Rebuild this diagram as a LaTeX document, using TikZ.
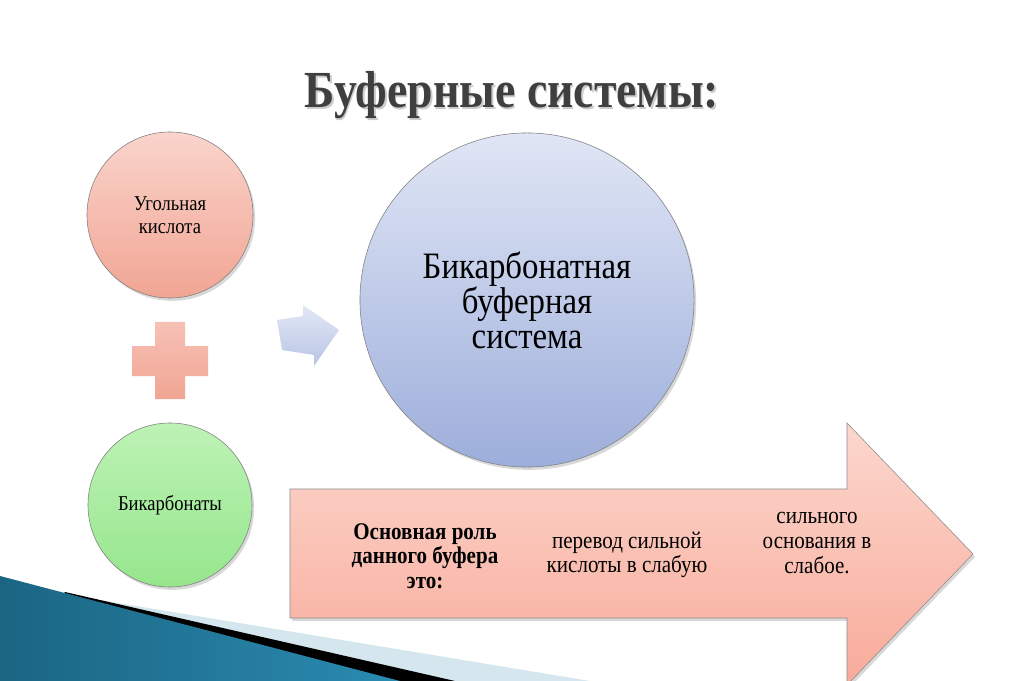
\documentclass[tikz,border=0pt]{standalone}
\usepackage{fontspec}
\setmainfont{Liberation Serif}[FakeStretch=0.88]
\usetikzlibrary{shadows}

\definecolor{titlegray}{HTML}{3F3F3F}
\definecolor{pinktop}{HTML}{FAD4CC}
\definecolor{pinkbot}{HTML}{F1A593}
\definecolor{greentop}{HTML}{BDF3B5}
\definecolor{greenbot}{HTML}{96E68D}
\definecolor{bluetop}{HTML}{E0E6F5}
\definecolor{bluebot}{HTML}{9DAEDB}
\definecolor{arrtop}{HTML}{FCD7CE}
\definecolor{arrbot}{HTML}{F8AB9A}
\definecolor{tealdark}{HTML}{1B6583}
\definecolor{teallight}{HTML}{3FA4CA}
\definecolor{tealmid}{HTML}{2A8BB1}
\definecolor{paleband}{HTML}{D6E6EE}

\begin{document}
\begin{tikzpicture}[x=0.025cm, y=-0.025cm,
    bubble/.style={circle, draw=black!50, line width=0.4pt, inner sep=0pt, align=center,
        drop shadow={shadow xshift=1.5pt, shadow yshift=-2pt, opacity=0.3}},
    smalltext/.style={font=\fontsize{15}{16.5}\selectfont},
    arrowtext/.style={align=center, font=\fontsize{17}{17.5}\selectfont}]
    \useasboundingbox (0,0) rectangle (1024,681);
    \fill[white] (0,0) rectangle (1024,681);
    \clip (0,0) rectangle (1024,681);

    % Corner decoration
    \fill[paleband] (100,600) -- (590,681) -- (0,681) -- cycle;
    \fill[black] (65,592) -- (455,681) -- (0,681) -- cycle;
    \shade[left color=tealdark, middle color=teallight, right color=tealmid]
        (0,576) -- (400,681) -- (0,681) -- cycle;

    % Title
    \node[anchor=base, text=black!20, font=\fontsize{37}{40}\selectfont\bfseries]
        at (513.5,110) {Буферные системы:};
    \node[anchor=base, text=titlegray, font=\fontsize{37}{40}\selectfont\bfseries]
        (title) at (512,108) {Буферные системы:};

    % Circles
    \node[bubble, smalltext, minimum size=4.15cm, top color=pinktop, bottom color=pinkbot]
        (acid) at (170,215) {Угольная\\кислота};
    \node[bubble, smalltext, minimum size=4.1cm, top color=greentop, bottom color=greenbot]
        (bicarb) at (170,505) {Бикарбонаты};
    \node[bubble, minimum size=8.35cm, top color=bluetop, bottom color=bluebot,
        font=\fontsize{26.5}{25}\selectfont]
        (system) at (527,300) {Бикарбонатная\\буферная\\система};

    % Plus sign
    \shade[top color=pinktop!60!pinkbot, bottom color=pinkbot]
        (155,322) -- (185,322) -- (185,346) -- (208,346) -- (208,376) -- (185,376)
        -- (185,399) -- (155,399) -- (155,376) -- (132,376) -- (132,346) -- (155,346) -- cycle;

    % Small arrow
    \shade[top color=bluetop, bottom color=bluebot!80, opacity=0.9]
        (277,320) -- (303,316) -- (303,305) -- (339,330) -- (314,366) -- (314,355)
        -- (282,350) -- cycle;

    % Big arrow
    \path[top color=arrtop, bottom color=arrbot, draw=black!45, line width=0.4pt,
        drop shadow={shadow xshift=1.5pt, shadow yshift=-2pt, opacity=0.3}]
        (290,489) -- (847,489) -- (847,423) -- (973,554) -- (847,685) -- (847,618)
        -- (290,618) -- cycle;
    \node[arrowtext, font=\fontsize{17}{17.5}\selectfont\bfseries]
        (role) at (425,556) {Основная роль\\данного буфера\\это:};
    \node[arrowtext] (acidconv) at (627,555) {перевод сильной\\кислоты в слабую};
    \node[arrowtext] (baseconv) at (817,543) {сильного\\основания в\\слабое.};
\end{tikzpicture}
\end{document}
